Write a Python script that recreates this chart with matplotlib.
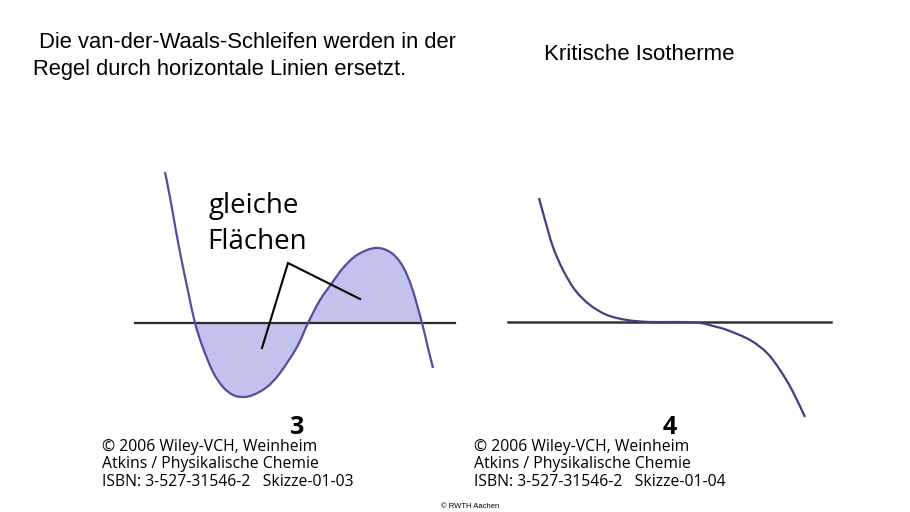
import matplotlib
matplotlib.use("Agg")
import matplotlib.pyplot as plt
import numpy as np
from matplotlib.path import Path
from matplotlib.patches import PathPatch

# ---- data (pixel coordinates) ----
loop_x = [165, 170.5, 175.8, 181.5, 187.8, 195, 203, 213, 223, 233, 243, 253, 267, 280, 297,
          308, 320, 332, 343, 357, 375, 390, 402, 412, 422, 428, 433]
loop_y = [172, 200, 230, 260, 290, 323, 348, 372, 387, 395, 397, 395, 387, 373, 347,
          323, 300, 283, 268, 255, 248, 252, 265, 288, 323, 348, 368]
tie_y = 323
tie_x = [135, 455]
fill_range = [195, 422]

crit_x = [539, 545, 553, 563, 575, 590, 607, 627, 650, 677, 700, 713, 727, 750, 767, 780, 792, 805]
crit_y = [198, 220, 247, 270, 290, 305, 315, 320, 322, 322, 323, 326, 330, 340, 353, 370, 390, 417]
crit_line_y = 322
crit_line_x = [508, 831]

leader_x = [262, 288, 360]
leader_y = [348, 263, 299]

title_left = [" Die van-der-Waals-Schleifen werden in der", "Regel durch horizontale Linien ersetzt."]
title_right = "Kritische Isotherme"
label_text = ["gleiche", "Flächen"]
credit_lines = ["\u00a9 2006 Wiley-VCH, Weinheim", "Atkins / Physikalische Chemie"]
isbn_left = "ISBN: 3-527-31546-2   Skizze-01-03"
isbn_right = "ISBN: 3-527-31546-2   Skizze-01-04"
fig_numbers = ["3", "4"]
footer = "\u00a9 RWTH Aachen"

curve_color = "#5b4a9e"
fill_color = "#c2c2ec"

fig = plt.figure(figsize=(9.10, 5.12), dpi=100)
ax = fig.add_axes([0, 0, 1, 1])
ax.set_xlim(0, 910)
ax.set_ylim(512, 0)
ax.axis("off")


def bezier_parts(xs, ys):
    pts = np.column_stack([xs, ys]).astype(float)
    verts, codes = [], []
    n = len(pts)
    for i in range(n - 1):
        p0 = pts[max(i - 1, 0)]
        p1 = pts[i]
        p2 = pts[i + 1]
        p3 = pts[min(i + 2, n - 1)]
        c1 = p1 + (p2 - p0) / 6.0
        c2 = p2 - (p3 - p1) / 6.0
        verts += [c1, c2, p2]
        codes += [Path.CURVE4] * 3
    return pts, verts, codes


def smooth_path(xs, ys):
    pts, verts, codes = bezier_parts(xs, ys)
    return Path([pts[0]] + verts, [Path.MOVETO] + codes)


# fill between loop and tie line (smooth outline)
lx = np.array(loop_x, dtype=float)
ly = np.array(loop_y, dtype=float)
m = (lx >= fill_range[0]) & (lx <= fill_range[1])
pts, verts, codes = bezier_parts(lx[m], ly[m])
fill_path = Path([pts[0]] + verts + [(fill_range[0], tie_y), (0, 0)],
                 [Path.MOVETO] + codes + [Path.LINETO, Path.CLOSEPOLY])
ax.add_patch(PathPatch(fill_path, fc=fill_color, ec="none", zorder=1))

# tie line and loop
ax.plot(tie_x, [tie_y, tie_y], color="#2b2b2b", lw=1.6, zorder=2)
ax.add_patch(PathPatch(smooth_path(loop_x, loop_y), fill=False, ec=curve_color, lw=1.6, zorder=3))
ax.plot(leader_x, leader_y, color="black", lw=1.5, zorder=4, solid_joinstyle="miter")

# critical isotherm
ax.plot(crit_line_x, [crit_line_y, crit_line_y], color="#333333", lw=1.8, zorder=2)
ax.add_patch(PathPatch(smooth_path(crit_x, crit_y), fill=False, ec="#4a3a80", lw=1.6, zorder=3))

# texts
ax.text(33, 48, title_left[0], fontsize=15.8, family="Liberation Sans", va="baseline", ha="left")
ax.text(33, 75, title_left[1], fontsize=15.8, family="Liberation Sans", va="baseline", ha="left")
ax.text(544, 60, title_right, fontsize=16, family="Liberation Sans", va="baseline", ha="left")
ax.text(209, 213, label_text[0], fontsize=20, family="Open Sans", va="baseline", ha="left")
ax.text(207, 249, label_text[1], fontsize=20, family="Open Sans", va="baseline", ha="left")

for x0, xn, num, isbn in [(102, 297, fig_numbers[0], isbn_left), (474, 670, fig_numbers[1], isbn_right)]:
    ax.text(xn, 434, num, fontsize=18, family="Open Sans", weight="bold", ha="center", va="baseline")
    for k, s in enumerate(credit_lines + [isbn]):
        ax.text(x0, 447 + 17.5 * k, s, fontsize=11.3, family="Open Sans", ha="left", va="center")

ax.text(470, 506, footer, fontsize=5.5, family="Liberation Sans", ha="center", va="center")

fig.savefig("out.png", dpi=100, facecolor="white")
